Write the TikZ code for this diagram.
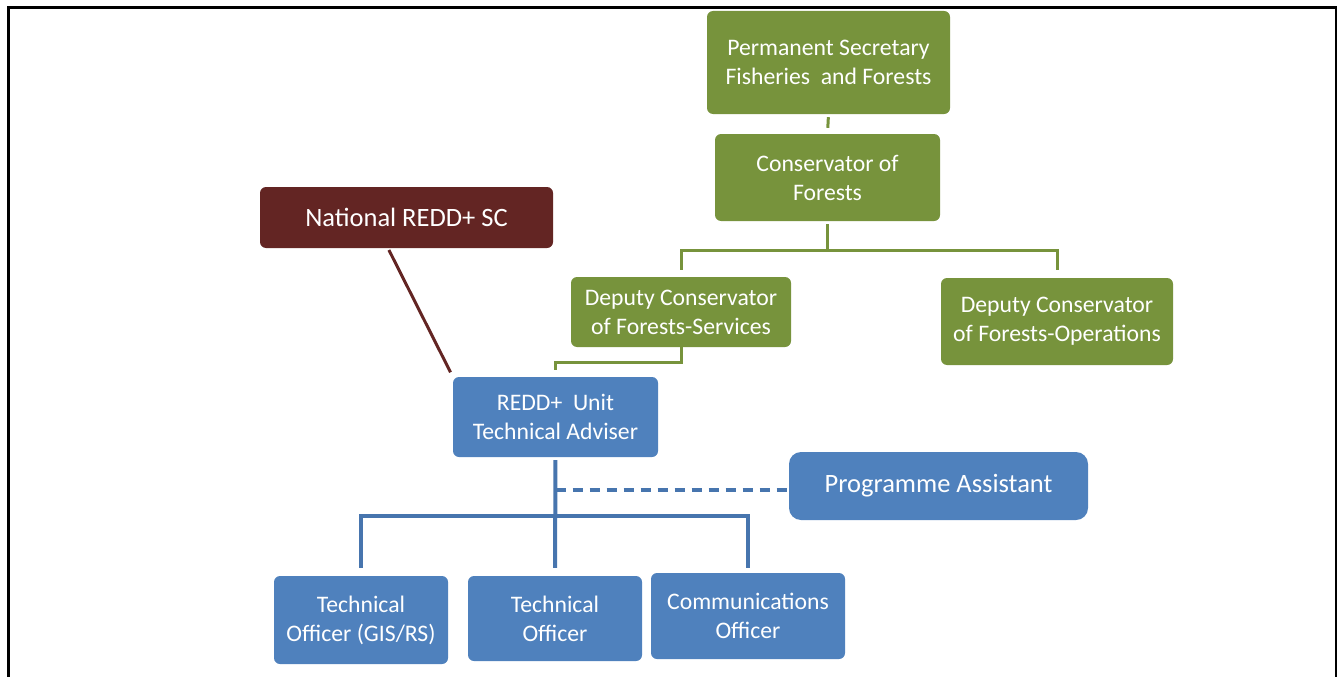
\documentclass[tikz,border=0pt]{standalone}
\usepackage{fontspec}
\setmainfont{Carlito}
\definecolor{gfill}{HTML}{77933C}
\definecolor{bfill}{HTML}{4F81BD}
\definecolor{bline}{HTML}{4775AE}
\definecolor{rfill}{HTML}{632523}
\tikzset{
  box/.style={rectangle, rounded corners=6pt, inner sep=0pt, align=center, text=white,
    font=\fontsize{23.7}{29}\selectfont},
  gbox/.style={box, fill=gfill},
  bbox/.style={box, fill=bfill},
  rbox/.style={box, fill=rfill},
  gconn/.style={draw=gfill, line width=3pt},
  bconn/.style={draw=bline, line width=4pt},
  rconn/.style={draw=rfill, line width=3pt},
}
\begin{document}
\begin{tikzpicture}[x=1pt,y=-1pt]
\useasboundingbox (0,0) rectangle (1341,677);
% frame
\draw[line width=2.6pt] (8.5,677) -- (8.5,7.5) -- (1336,7.5) -- (1336,677);
% nodes
\node[gbox, minimum width=243pt, minimum height=103pt] (ps) at (828.5,62.5) {Permanent Secretary\\Fisheries\ \ and Forests};
\node[gbox, minimum width=225pt, minimum height=87pt] (cf) at (827.5,177.5) {Conservator of\\Forests};
\node[rbox, minimum width=293pt, minimum height=61pt, font=\fontsize{26.5}{32}\selectfont] (nsc) at (406.5,217.5) {National REDD+ SC};
\node[gbox, minimum width=220pt, minimum height=70pt] (dcs) at (681,312) {Deputy Conservator\\of Forests-Services};
\node[gbox, minimum width=232pt, minimum height=87pt] (dco) at (1057,321.5) {Deputy Conservator\\of Forests-Operations};
\node[bbox, minimum width=205pt, minimum height=80pt] (ru) at (555.5,417) {REDD+\ \ Unit\\Technical Adviser};
\node[bbox, minimum width=299pt, minimum height=68pt, rounded corners=12pt, font=\fontsize{26.5}{32}\selectfont] (pa) at (938.5,486) {Programme Assistant};
\node[bbox, minimum width=174pt, minimum height=88pt] (t1) at (361,620) {Technical\\Officer (GIS/RS)};
\node[bbox, minimum width=174pt, minimum height=85pt] (t2) at (555,618.5) {Technical\\Officer};
\node[bbox, minimum width=194pt, minimum height=86pt] (co) at (748,616) {Communications\\Officer};
% helper coordinates
\coordinate (hg) at (0,250);
\coordinate (hs) at (0,362);
\coordinate (hb) at (0,516);
\coordinate (dh) at ([yshift=-4pt]pa.west);
% green connectors
\draw[gconn, shorten <=3pt, shorten >=6pt] (ps.south) -- (cf.north);
\draw[gconn, shorten <=3pt] (cf.south) -- (hg -| cf.south);
\draw[gconn, shorten >=7pt] (hg -| cf.south) -| (dcs.north);
\draw[gconn, shorten >=8pt] (hg -| cf.south) -| (dco.north);
\draw[gconn, shorten >=7pt] (dcs.south) -- (hs -| dcs.south) -| (ru.north);
% red connector
\draw[rconn, shorten <=2pt, shorten >=5pt] ([xshift=-18.5pt]nsc.south) -- (ru.north west);
% blue connectors
\draw[bconn, shorten <=3pt, shorten >=8pt] (ru.south) -- (t2.north);
\draw[bconn, shorten >=8pt] (hb -| ru.south) -| (t1.north);
\draw[bconn, shorten >=5pt] (hb -| ru.south) -| (co.north);
\draw[bconn, line width=3.5pt, dash pattern=on 10pt off 7pt] (dh -| ru.south) -- (dh);
\end{tikzpicture}
\end{document}
